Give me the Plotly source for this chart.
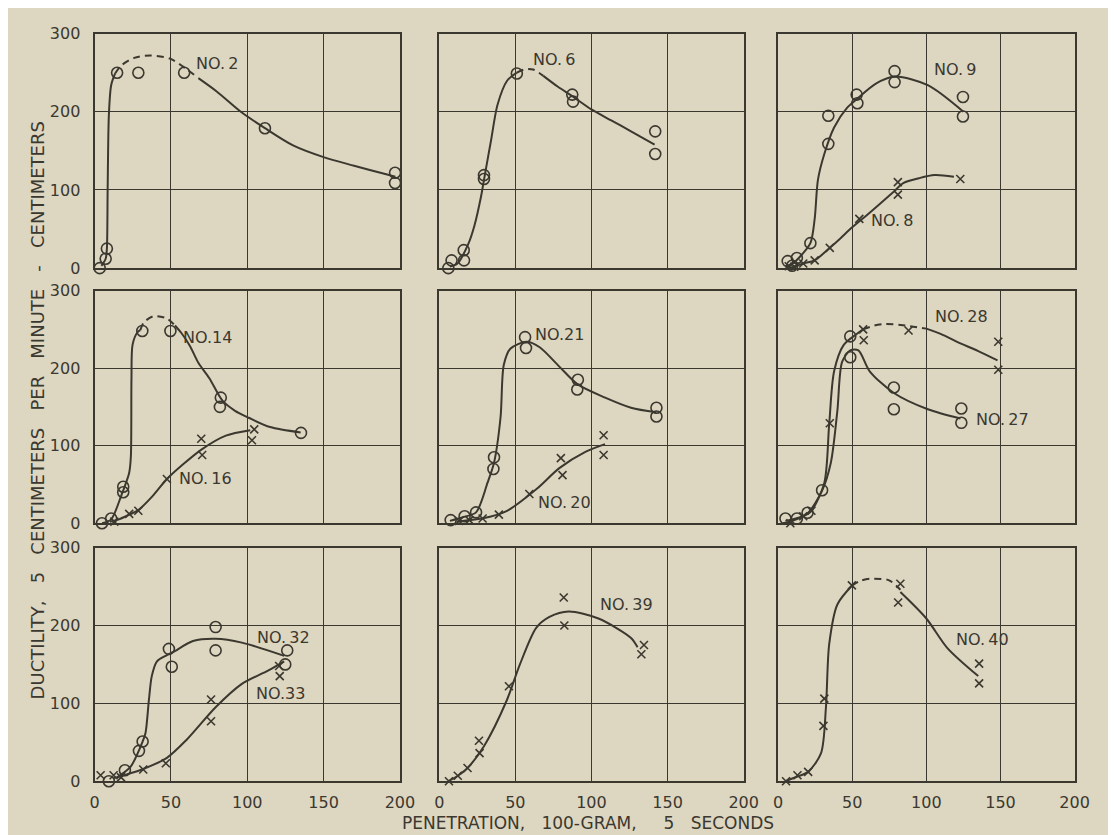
import plotly.graph_objects as go

INK = "#3b382f"
BG = "#ddd6c1"
FONT = "DejaVu Sans"

# ---------------- data (penetration x, ductility y) ----------------
# Panel 1 : NO. 2 (circles)
no2_x = [3.4, 7.3, 8.1, 14.8, 28.7, 58.7, 111.6, 196.8, 196.8]
no2_y = [0, 12, 25, 250, 250, 250, 179, 122, 109]
no2_c1_x = [4.5, 7.3, 8.1, 8.6, 9.4, 10.9, 13.5]
no2_c1_y = [3, 12, 25, 100, 196, 234, 249]
no2_d_x = [13.5, 17.4, 26, 36.7, 49.5, 60, 68]
no2_d_y = [249, 259, 269, 272, 268, 255, 243]
no2_c2_x = [68, 80, 96.5, 111.6, 130, 150, 170, 191, 197]
no2_c2_y = [243, 226, 199, 179, 157, 142, 131, 120, 117]

# Panel 2 : NO. 6 (circles)
no6_x = [6.0, 8.1, 16.3, 16.1, 29.4, 29.4, 51, 87.4, 87.9, 141.9, 141.9]
no6_y = [0, 10, 10, 23, 119, 114, 249, 222, 213, 175, 146]
no6_c1_x = [7, 12, 18.9, 23.2, 27.5, 30.5, 34, 38.3, 44.7, 51]
no6_c1_y = [2, 6, 30, 55, 92, 125, 163, 209, 240, 250]
no6_d_x = [51, 55.5, 61.7, 68.4]
no6_d_y = [250, 254, 254, 246]
no6_c2_x = [68.4, 78, 87.4, 100, 113, 126, 141.5]
no6_c2_y = [246, 232, 220, 203, 189, 175, 158]

# Panel 3 : NO. 9 (circles), NO. 8 (crosses)
no9_x = [6.5, 12.7, 9.5, 21.8, 33.9, 33.9, 53, 53.5, 78.6, 78.6, 124.7, 124.7]
no9_y = [9, 13, 3, 32, 159, 195, 222, 211, 252, 238, 219, 194]
no9_c_x = [5, 10, 14, 21.8, 24.7, 26.9, 31.2, 37.8, 46.5, 53, 66, 79, 101, 125]
no9_c_y = [2, 6, 13, 32, 63, 113, 146, 180, 205, 216, 236, 245, 234, 200]
no8_x = [7.2, 11, 17, 24.7, 34.9, 54.8, 80.8, 80.8, 122.9]
no8_y = [2.5, 2, 6, 10, 26, 63, 110, 94, 114]
no8_c_x = [5, 11, 17, 24.7, 34.9, 42, 49.8, 61.8, 77, 84.7, 95, 105.5, 118.6]
no8_c_y = [0, 2, 6, 10, 26, 38, 52, 71, 96, 109, 115, 119, 117]

# Panel 4 : NO. 14 (circles), NO. 16 (crosses)
no14_x = [4.9, 10.9, 18.8, 18.8, 31.3, 49.7, 82.7, 82.1, 135.2]
no14_y = [0, 6, 47, 40, 248, 248, 162, 150, 116.5]
no14_c1_x = [5, 10.9, 17.4, 20.6, 22.7, 23.8, 24.2, 24.9, 28, 30]
no14_c1_y = [0, 5, 35, 52, 65, 86, 187, 230, 246, 249]
no14_d_x = [30, 32.3, 38.8, 47.4, 52.7]
no14_d_y = [249, 259, 267, 264, 255]
no14_c2_x = [52.7, 57, 62.4, 68, 75.2, 83.8, 92, 101, 115, 135]
no14_c2_y = [255, 245, 229, 207, 187, 158, 145, 136, 124, 117]
no16_x = [13, 22.7, 28.7, 47.4, 69.9, 70.5, 104.6, 103.1]
no16_y = [2, 12, 16, 57, 109, 88, 121, 107]
no16_c_x = [10, 16, 22.7, 28.7, 38, 47.4, 58, 70, 86, 102]
no16_c_y = [2, 5, 11, 17, 35, 57, 76, 95, 113, 120]

# Panel 5 : NO. 21 (circles), NO. 20 (crosses)
no21_x = [7.5, 16.7, 24.2, 35.6, 36, 56.4, 57, 91.1, 90.7, 142.7, 142.7]
no21_y = [4, 9, 14, 70, 85, 240, 226, 185, 172.5, 149, 137.6]
no21_c_x = [7, 16, 24.2, 31.7, 36, 40.3, 42.4, 46.7, 57.4, 66, 78.9, 91, 109, 126, 142.7]
no21_c_y = [3, 8, 14, 52, 78, 137, 204, 225, 234, 227, 202, 179, 162, 149, 143]
no20_x = [13, 19.8, 28.5, 39.2, 59.2, 79.9, 81, 108, 108]
no20_y = [3, 4, 6, 11, 37.6, 84, 62, 113.5, 88]
no20_c_x = [11.5, 20, 28, 44.6, 63.9, 78.9, 96, 108.9]
no20_c_y = [2, 4, 6, 16, 44, 71, 92, 102]

# Panel 6 : NO. 27 (circles), NO. 28 (crosses)
no27_x = [5, 12.7, 19.9, 29.7, 48.7, 48.7, 78.1, 78.1, 123.6, 123.6]
no27_y = [6, 6, 13.5, 42.6, 241, 214, 175, 147, 148, 129.5]
no27_c_x = [5, 12, 20, 29.7, 35.6, 40, 43.2, 48.7, 54.2, 61.8, 78.1, 101, 123]
no27_c_y = [3, 6, 13, 42, 78, 145, 208, 223, 223, 196, 168, 147, 135]
no28_x = [8.3, 17, 22.5, 34.9, 57.4, 57.8, 88, 148.5, 148.5]
no28_y = [0, 9, 16, 129, 250, 236, 248.5, 234, 198]
no28_c1_x = [3, 8.3, 17, 22.5, 31.2, 34.5, 37.8, 44.3, 53, 57.4]
no28_c1_y = [0, 2, 9, 16, 52, 128, 196, 230, 244, 250]
no28_d_x = [57.4, 65, 72.7, 85.8, 100]
no28_d_y = [250, 255, 257, 255, 251]
no28_c2_x = [100, 110, 120.7, 135, 148]
no28_c2_y = [251, 244, 234, 222, 210]

# Panel 7 : NO. 32 (circles), NO. 33 (crosses)
no32_x = [9.4, 19.9, 29.1, 31.5, 48.7, 50.6, 79.3, 79.3, 126.2, 124.9]
no32_y = [0, 14, 39, 51, 170, 147, 198, 168, 168, 150]
no32_c_x = [15, 19.9, 23.8, 31.5, 33.4, 35.6, 37.5, 40.9, 47.4, 51.6, 64.5, 79.3, 96.5, 124.2]
no32_c_y = [5, 12, 19, 51, 62, 104, 135, 154, 162, 166, 180, 183, 178, 161]
no33_x = [4, 12.5, 17.4, 31.9, 46.7, 76.3, 76.3, 120.9, 121.3]
no33_y = [7.6, 7.6, 5, 15, 23, 105, 77, 148, 135]
no33_c_x = [12.5, 20, 32.3, 47.4, 60.2, 79.3, 96.5, 113.6, 124.2]
no33_c_y = [4, 8, 16, 30, 53, 95, 125, 142, 154]

# Panel 8 : NO. 39 (crosses)
no39_x = [6.4, 12.2, 18.6, 26.5, 26.1, 45.8, 81.8, 82.2, 134.5, 132.8]
no39_y = [0, 7, 17, 36, 52, 122, 236, 200, 175, 163]
no39_c_x = [6, 12.2, 18.6, 29.4, 44.4, 53, 63.7, 72.4, 85, 104.6, 126, 130.3]
no39_c_y = [0, 7, 17, 45, 104, 150, 197, 211, 218, 209, 184, 172]

# Panel 9 : NO. 40 (crosses)
no40_x = [5.4, 13.1, 20.3, 30.6, 31.2, 49.8, 82.5, 81, 135.6, 135.6]
no40_y = [0, 7.6, 12, 71, 106, 251.5, 253.6, 229.6, 151, 125.7]
no40_c1_x = [5, 13.1, 20.3, 29, 32.3, 34.5, 40, 49.8]
no40_c1_y = [0, 6, 12, 36, 95, 176, 227, 251]
no40_d_x = [49.8, 55, 61.8, 74.9, 82.5]
no40_d_y = [251, 257, 260, 258, 246]
no40_c2_x = [82.5, 100, 114.2, 135]
no40_c2_y = [243, 209, 171, 135]

# labels: (text, x, y) in data units of each panel
labels = [
    [("NO.\u20092", 80, 262)],
    [("NO.\u20096", 75.5, 267)],
    [("NO.\u20099", 119, 254), ("NO.\u20098", 76.6, 61)],
    [("NO.14", 74.3, 239), ("NO.\u200916", 72.7, 58)],
    [("NO.21", 78.7, 243), ("NO.\u200920", 82.6, 27)],
    [("NO.\u200928", 123.8, 266), ("NO.\u200927", 151.3, 134)],
    [("NO.\u200932", 123.5, 185), ("NO.33", 121.5, 113)],
    [("NO.\u200939", 123.2, 227)],
    [("NO.\u200940", 138.2, 182)],
]

x_ticks = [0, 50, 100, 150, 200]
y_ticks = [0, 100, 200, 300]

x_title = "PENETRATION,\u00a0\u00a0\u00a0100-GRAM,\u00a0\u00a0\u00a0\u00a0\u00a05\u00a0\u00a0\u00a0SECONDS"
y_title = ("DUCTILITY,\u00a0\u00a0\u00a05\u00a0\u00a0\u00a0CENTIMETERS\u00a0\u00a0\u00a0PER"
           "\u00a0\u00a0\u00a0MINUTE\u00a0\u00a0\u00a0-\u00a0\u00a0\u00a0CENTIMETERS")

# ---------------- layout geometry ----------------
W, H = 1116, 835
col_px = [(83, 394), (434, 744), (779, 1081)]
row_px = [(17, 257), (280, 518), (543, 782)]

panels = [
    [("o", no2_x, no2_y), ("s", no2_c1_x, no2_c1_y), ("d", no2_d_x, no2_d_y), ("s", no2_c2_x, no2_c2_y)],
    [("o", no6_x, no6_y), ("s", no6_c1_x, no6_c1_y), ("d", no6_d_x, no6_d_y), ("s", no6_c2_x, no6_c2_y)],
    [("o", no9_x, no9_y), ("s", no9_c_x, no9_c_y), ("x", no8_x, no8_y), ("s", no8_c_x, no8_c_y)],
    [("o", no14_x, no14_y), ("s", no14_c1_x, no14_c1_y), ("d", no14_d_x, no14_d_y),
     ("s", no14_c2_x, no14_c2_y), ("x", no16_x, no16_y), ("s", no16_c_x, no16_c_y)],
    [("o", no21_x, no21_y), ("s", no21_c_x, no21_c_y), ("x", no20_x, no20_y), ("s", no20_c_x, no20_c_y)],
    [("o", no27_x, no27_y), ("s", no27_c_x, no27_c_y), ("x", no28_x, no28_y),
     ("s", no28_c1_x, no28_c1_y), ("d", no28_d_x, no28_d_y), ("s", no28_c2_x, no28_c2_y)],
    [("o", no32_x, no32_y), ("s", no32_c_x, no32_c_y), ("x", no33_x, no33_y), ("s", no33_c_x, no33_c_y)],
    [("x", no39_x, no39_y), ("s", no39_c_x, no39_c_y)],
    [("x", no40_x, no40_y), ("s", no40_c1_x, no40_c1_y), ("d", no40_d_x, no40_d_y), ("s", no40_c2_x, no40_c2_y)],
]

fig = go.Figure()
layout = dict(
    width=W, height=H, autosize=False,
    margin=dict(l=0, r=0, t=0, b=0),
    paper_bgcolor=BG, plot_bgcolor=BG,
    showlegend=False,
    font=dict(family=FONT, color=INK, size=16),
)
annotations = []

for i, items in enumerate(panels):
    r, c = divmod(i, 3)
    n = i + 1
    sfx = "" if n == 1 else str(n)
    xd = [col_px[c][0] / W, col_px[c][1] / W]
    yd = [1 - row_px[r][1] / H, 1 - row_px[r][0] / H]
    common = dict(showgrid=True, gridcolor=INK, gridwidth=1.1,
                  showline=True, linecolor=INK, linewidth=2, mirror=True,
                  zeroline=False, ticks="",
                  tickfont=dict(family=FONT, size=16, color=INK), fixedrange=True)
    layout["xaxis" + sfx] = dict(domain=xd, range=[0, 200], anchor="y" + sfx,
                                 tickvals=x_ticks, ticktext=[str(v) for v in x_ticks],
                                 showticklabels=(r == 2), ticklabelstandoff=6, **common)
    layout["yaxis" + sfx] = dict(domain=yd, range=[0, 300], anchor="x" + sfx,
                                 tickvals=y_ticks, ticktext=[str(v) for v in y_ticks],
                                 showticklabels=(c == 0), ticklabelstandoff=9, **common)
    for kind, xs, ys in items:
        if kind == "o":
            fig.add_trace(go.Scatter(x=xs, y=ys, mode="markers", xaxis="x" + sfx, yaxis="y" + sfx,
                                     cliponaxis=False,
                                     marker=dict(symbol="circle-open", size=11, color=INK,
                                                 line=dict(width=1.6, color=INK))))
        elif kind == "x":
            fig.add_trace(go.Scatter(x=xs, y=ys, mode="markers", xaxis="x" + sfx, yaxis="y" + sfx,
                                     cliponaxis=False,
                                     marker=dict(symbol="x-thin-open", size=8, color=INK,
                                                 line=dict(width=1.6, color=INK))))
        else:
            fig.add_trace(go.Scatter(x=xs, y=ys, mode="lines", xaxis="x" + sfx, yaxis="y" + sfx,
                                     cliponaxis=False,
                                     line=dict(color=INK, width=2, shape="spline", smoothing=0.8,
                                               dash="solid" if kind == "s" else "7px,5px")))
    for text, lx, ly in labels[i]:
        annotations.append(dict(text=text, x=lx, y=ly, xref="x" + sfx, yref="y" + sfx,
                                showarrow=False, font=dict(family=FONT, size=16, color=INK)))

annotations.append(dict(
    text=x_title, x=586 / W, y=1 - 825 / H, xref="paper", yref="paper", showarrow=False,
    xanchor="center", yanchor="middle", font=dict(family=FONT, size=17, color=INK)))
annotations.append(dict(
    text=y_title, x=25 / W, y=1 - 403 / H, xref="paper", yref="paper", showarrow=False,
    textangle=-90, xanchor="center", yanchor="middle",
    font=dict(family=FONT, size=18, color=INK)))

layout["annotations"] = annotations
fig.update_layout(**layout)
fig.write_html("out.html")
